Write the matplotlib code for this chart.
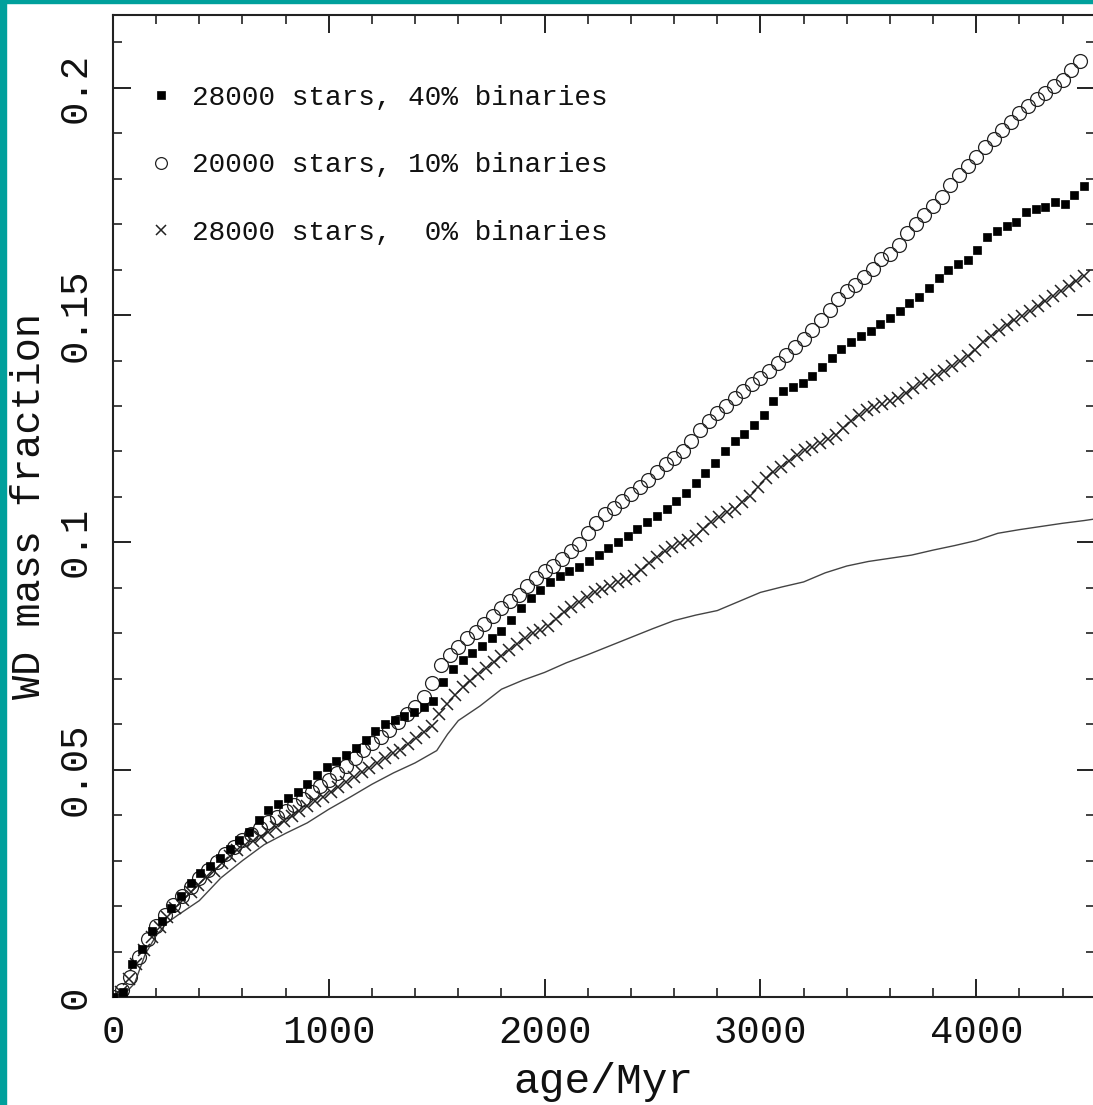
import numpy as np
import matplotlib
matplotlib.use("Agg")
import matplotlib.pyplot as plt
from matplotlib.patches import Rectangle
from matplotlib.ticker import MultipleLocator, FixedLocator, FixedFormatter

# ---------------- data ----------------
# 28000 stars, 40% binaries (filled squares), sampled every 45 Myr
age_sq = np.arange(0, 4501, 45)
wd_sq = [0.0, 0.001, 0.0072, 0.0105, 0.0145, 0.0168, 0.0195, 0.0223, 0.0251, 0.0272,
         0.0288, 0.0306, 0.0326, 0.0345, 0.0364, 0.0390, 0.0411, 0.0424, 0.0438, 0.0452,
         0.0468, 0.0488, 0.0506, 0.0519, 0.0533, 0.0548, 0.0566, 0.0585, 0.0600, 0.0610,
         0.0618, 0.0627, 0.0638, 0.0650, 0.0692, 0.0722, 0.0741, 0.0757, 0.0773, 0.0790,
         0.0806, 0.0830, 0.0855, 0.0877, 0.0896, 0.0912, 0.0925, 0.0936, 0.0946, 0.0958,
         0.0973, 0.0988, 0.1001, 0.1015, 0.1030, 0.1044, 0.1059, 0.1074, 0.1090, 0.1108,
         0.1130, 0.1152, 0.1174, 0.1200, 0.1222, 0.1238, 0.1258, 0.1280, 0.1310, 0.1332,
         0.1341, 0.1351, 0.1366, 0.1385, 0.1405, 0.1425, 0.1441, 0.1453, 0.1466, 0.1480,
         0.1494, 0.1510, 0.1527, 0.1540, 0.1560, 0.1582, 0.1600, 0.1613, 0.1622, 0.1642,
         0.1671, 0.1685, 0.1696, 0.1705, 0.1726, 0.1733, 0.1738, 0.1748, 0.1745, 0.1765,
         0.1784]

# 20000 stars, 10% binaries (open circles), sampled every 40 Myr
age_ci = np.arange(0, 4481, 40)
wd_ci = [0.0, 0.0015, 0.0045, 0.0089, 0.0127, 0.0157, 0.0180, 0.0202, 0.0223, 0.0243,
         0.0262, 0.0280, 0.0297, 0.0314, 0.0331, 0.0345, 0.0358, 0.0371, 0.0384, 0.0397,
         0.0409, 0.0422, 0.0436, 0.0450, 0.0464, 0.0478, 0.0492, 0.0508, 0.0525, 0.0543,
         0.0558, 0.0572, 0.0588, 0.0605, 0.0622, 0.0637, 0.0660, 0.0690, 0.0730, 0.0752,
         0.0770, 0.0789, 0.0803, 0.0820, 0.0838, 0.0855, 0.0870, 0.0885, 0.0905, 0.0922,
         0.0936, 0.0948, 0.0964, 0.0980, 0.0996, 0.1020, 0.1043, 0.1062, 0.1076, 0.1092,
         0.1107, 0.1122, 0.1138, 0.1155, 0.1172, 0.1185, 0.1200, 0.1224, 0.1248, 0.1266,
         0.1284, 0.1301, 0.1318, 0.1333, 0.1348, 0.1362, 0.1378, 0.1395, 0.1413, 0.1430,
         0.1448, 0.1468, 0.1490, 0.1512, 0.1535, 0.1552, 0.1566, 0.1583, 0.1601, 0.1624,
         0.1635, 0.1655, 0.1680, 0.1700, 0.1721, 0.1740, 0.1760, 0.1785, 0.1808, 0.1828,
         0.1848, 0.1870, 0.1888, 0.1906, 0.1925, 0.1944, 0.1960, 0.1975, 0.1989, 0.2003,
         0.2018, 0.2038, 0.2058]

# 28000 stars, 0% binaries (crosses), sampled every 36 Myr
age_x = np.arange(0, 4501, 36)
wd_x = [0.0, 0.0012, 0.0040, 0.0073, 0.0103, 0.0131, 0.0154, 0.0177, 0.0196, 0.0214,
        0.0230, 0.0247, 0.0263, 0.0278, 0.0294, 0.0310, 0.0323, 0.0334, 0.0344, 0.0353,
        0.0362, 0.0374, 0.0387, 0.0399, 0.0410, 0.0421, 0.0431, 0.0441, 0.0452, 0.0463,
        0.0473, 0.0484, 0.0494, 0.0503, 0.0515, 0.0526, 0.0536, 0.0544, 0.0556, 0.0569,
        0.0583, 0.0595, 0.0622, 0.0644, 0.0665, 0.0682, 0.0696, 0.0711, 0.0724, 0.0737,
        0.0750, 0.0763, 0.0777, 0.0789, 0.0800, 0.0808, 0.0816, 0.0831, 0.0846, 0.0858,
        0.0868, 0.0880, 0.0890, 0.0898, 0.0905, 0.0912, 0.0919, 0.0926, 0.0940, 0.0955,
        0.0968, 0.0980, 0.0990, 0.0998, 0.1005, 0.1013, 0.1030, 0.1045, 0.1056, 0.1066,
        0.1074, 0.1088, 0.1103, 0.1122, 0.1142, 0.1155, 0.1166, 0.1178, 0.1192, 0.1203,
        0.1210, 0.1218, 0.1227, 0.1237, 0.1252, 0.1266, 0.1280, 0.1292, 0.1298, 0.1304,
        0.1311, 0.1318, 0.1328, 0.1340, 0.1351, 0.1360, 0.1369, 0.1378, 0.1389, 0.1399,
        0.1410, 0.1424, 0.1440, 0.1455, 0.1467, 0.1478, 0.1489, 0.1499, 0.1509, 0.1520,
        0.1532, 0.1543, 0.1554, 0.1565, 0.1576, 0.1586]

# unlabelled solid line
age_line = [0, 50, 100, 150, 200, 250, 300, 400, 500, 600, 700, 800, 900, 1000, 1100,
            1200, 1300, 1400, 1500, 1550, 1600, 1700, 1800, 1900, 2000, 2100, 2200, 2300,
            2400, 2500, 2600, 2700, 2800, 2900, 3000, 3100, 3200, 3300, 3400, 3500, 3600,
            3700, 3800, 3900, 4000, 4100, 4200, 4300, 4400, 4500, 4600]
wd_line = [0.0, 0.0005, 0.0030, 0.0095, 0.0135, 0.0163, 0.0180, 0.0212, 0.0262, 0.0300,
           0.0335, 0.0360, 0.0383, 0.0413, 0.0440, 0.0468, 0.0493, 0.0515, 0.0542, 0.0578,
           0.0608, 0.0640, 0.0677, 0.0697, 0.0714, 0.0735, 0.0753, 0.0772, 0.0791, 0.0810,
           0.0828, 0.0840, 0.0850, 0.0870, 0.0890, 0.0902, 0.0913, 0.0933, 0.0948, 0.0958,
           0.0965, 0.0972, 0.0983, 0.0993, 0.1004, 0.1020, 0.1028, 0.1035, 0.1042, 0.1048,
           0.1055]

labels = ["28000 stars, 40% binaries",
          "20000 stars, 10% binaries",
          "28000 stars,  0% binaries"]
xticks = [0, 1000, 2000, 3000, 4000]
xticklabels = ["0", "1000", "2000", "3000", "4000"]
yticks = [0, 0.05, 0.1, 0.15, 0.2]
yticklabels = ["0", "0.05", "0.1", "0.15", "0.2"]

# ---------------- figure ----------------
plt.rcParams['font.family'] = ['Liberation Mono', 'DejaVu Sans']
W, H = 1093, 1105
fig = plt.figure(figsize=(W / 100, H / 100), dpi=100)
fig.patch.set_facecolor('white')

# teal frame (left and top strips)
teal = '#00a09c'
fig.add_artist(Rectangle((0, 0), 6 / W, 1, transform=fig.transFigure, color=teal, zorder=0))
fig.add_artist(Rectangle((0, 1 - 3 / H), 1, 3 / H, transform=fig.transFigure, color=teal, zorder=0))

left, right, bottom, top = 113, 1095, 997, 15
ax = fig.add_axes([left / W, (H - bottom) / H, (right - left) / W, (bottom - top) / H])
ax.set_facecolor('white')

ax.plot(age_line, wd_line, '-', color='#444444', lw=1.0, zorder=2)
h_sq, = ax.plot(age_sq, wd_sq, 's', ms=6, mfc='black', mec='black', mew=0.5,
                ls='none', zorder=4, label=labels[0])
h_ci, = ax.plot(age_ci, wd_ci, 'o', ms=10, mfc='none', mec='#222222', mew=0.9,
                ls='none', zorder=3, label=labels[1])
h_x, = ax.plot(age_x, wd_x, 'x', ms=8, color='#222222', mew=1.1,
               ls='none', zorder=3, label=labels[2])

ax.set_xlim(0, 4550)
ax.set_ylim(0, 0.216)

ax.xaxis.set_major_locator(FixedLocator(xticks))
ax.xaxis.set_major_formatter(FixedFormatter(xticklabels))
ax.xaxis.set_minor_locator(MultipleLocator(200))
ax.yaxis.set_major_locator(FixedLocator(yticks))
ax.yaxis.set_major_formatter(FixedFormatter(yticklabels))
ax.yaxis.set_minor_locator(MultipleLocator(0.01))

for s in ax.spines.values():
    s.set_linewidth(1.5)
    s.set_color('#222222')

ax.tick_params(which='both', direction='in', top=True, right=True, color='#222222')
ax.tick_params(which='major', length=13, width=1.4)
ax.tick_params(which='minor', length=6.5, width=1.2)
ax.tick_params(axis='x', which='major', labelsize=28, pad=13, labelcolor='#111111')
ax.tick_params(axis='y', which='major', labelsize=28, pad=14, labelcolor='#111111')
for lab in ax.get_yticklabels():
    lab.set_rotation(90)
    lab.set_va('center')

ax.set_xlabel('age/Myr', fontsize=31, color='#111111')
ax.set_ylabel('WD mass fraction', fontsize=29, color='#111111')
ax.xaxis.set_label_coords(0.5, -0.066)
ax.yaxis.set_label_coords(-0.066, 0.5)

leg = ax.legend(handles=[h_sq, h_ci, h_x], labels=labels, loc='upper left',
                bbox_to_anchor=(0.035, 0.929), frameon=False, fontsize=20,
                handlelength=1.0, handletextpad=0.6, labelspacing=1.5,
                borderpad=0, borderaxespad=0, numpoints=1)
for t in leg.get_texts():
    t.set_color('#111111')
lh = leg.legend_handles
lh[0].set_markersize(5.5)
lh[1].set_markersize(8.5)
lh[2].set_markersize(6.5)

fig.savefig('out.png', dpi=100, facecolor='white')
